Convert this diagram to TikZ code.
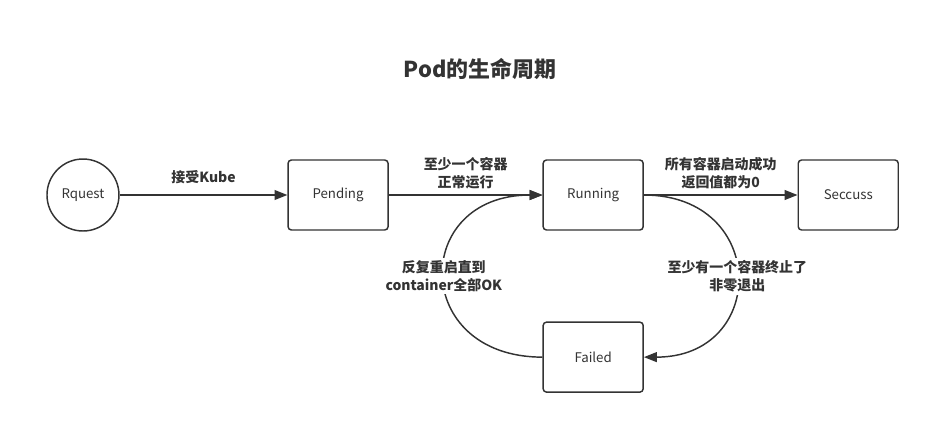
\documentclass[tikz,border=0pt]{standalone}
\usepackage{fontspec}
\setmainfont{Noto Sans CJK SC}
\usepackage{tikz}
\usetikzlibrary{arrows.meta, automata}

\definecolor{ink}{HTML}{333333}

\begin{document}
\begin{tikzpicture}[->,>={Triangle[length=3.4mm,width=2.6mm]},auto,node distance=6.75cm,
                    line width=1.1pt,draw=ink]
\tikzstyle{every state}=[fill=none,draw=ink,text=ink,line width=1.1pt]
\tikzstyle{stbox}=[rectangle,draw=ink,text=ink,rounded corners=2.5pt,minimum width=2.646cm,minimum height=1.852cm,line width=1.1pt]
\tikzset{font=\fontsize{10pt}{12pt}\selectfont}
\tikzset{lbl/.style={font=\fontsize{10.5pt}{13.5pt}\selectfont\bfseries,align=center,text=ink,inner sep=2pt}}

  \useasboundingbox (-2.196,5.160) rectangle (22.36,-6.06);

        \node[state,inner sep=0pt,minimum size=1.905cm]          (req)   at (0,0)              {Rquest};
        \node[stbox]                                             (pend)  [right of=req]        {Pending};
        \node[stbox]                                             (run)   [right of=pend]       {Running};
        \node[stbox]                                             (succ)  [right of=run]        {Seccuss};
        \node[stbox, node distance=4.29cm]                       (fail)  [below of=run]        {Failed};

        \node[text=ink,font=\fontsize{16.5pt}{20pt}\selectfont\bfseries] (title) at (10.505,3.334) {Pod的生命周期};

        \path[->]
        (req)   edge node[lbl,above=6pt]  {接受Kube}                              (pend)
        (pend)  edge node[lbl,above=2pt]  {至少一个容器\\正常运行}                 (run)
        (run)   edge node[lbl,above=2pt]  {所有容器启动成功\\返回值都为0}           (succ)
        (run.east)  edge[out=0,in=0,looseness=1.97]
                    node[lbl,fill=white,anchor=center] {至少有一个容器终止了\\非零退出}   (fail.east)
        (fail.west) edge[out=180,in=180,looseness=2.08]
                    node[lbl,fill=white,anchor=center] {反复重启直到\\container全部OK} (run.west)
        ; %end path

\end{tikzpicture}
\end{document}
